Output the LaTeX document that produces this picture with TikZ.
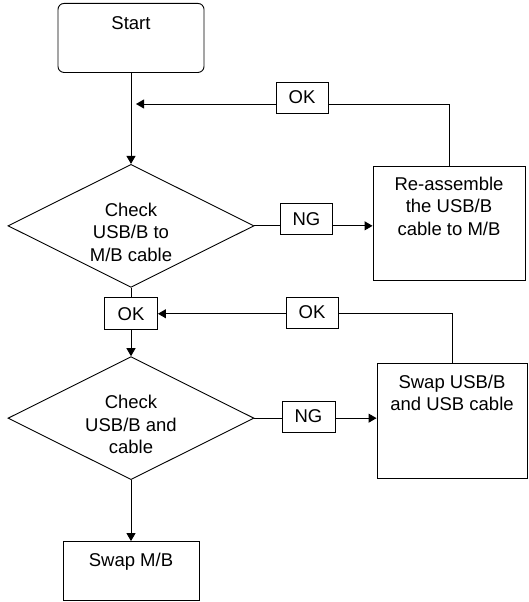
\documentclass[tikz,border=0pt]{standalone}
\usepackage{fontspec}
\setmainfont{Liberation Sans}
\usepackage{tikz}
\usetikzlibrary{positioning, arrows.meta, shapes.geometric}
\newcommand{\toplines}[1]{\begin{tabular}[t]{@{}c@{}}#1\end{tabular}}

\begin{document}
\begin{tikzpicture}[
        x=1pt, y=-1pt,
        line width=0.9pt,
        font=\fontsize{18.5}{22.5}\selectfont,
        term/.style  = {draw, rounded corners=6pt, minimum width=146pt, inner sep=0pt, text height=26pt, text depth=43pt},
        check/.style = {draw, diamond, shape aspect=2, minimum width=246pt, minimum height=123pt, inner sep=0pt, text height=15pt, text depth=34pt},
        action/.style= {draw, inner sep=0pt, text height=24pt, text depth=90pt},
        tag/.style   = {draw, minimum width=52pt, minimum height=31pt, inner sep=0pt},
        arrow/.style = {-{Triangle[length=8pt, width=9pt]}},
    ]
        \useasboundingbox (0,0) rectangle (528,602);
        % Main column
        \node[term, anchor=north] (start) at (131,3) {Start};
        \node[check, below=91pt of start] (chk1) {\toplines{Check\\USB/B to\\M/B cable}};
        \node[tag, below=9.5pt of chk1, minimum width=53pt, minimum height=32pt] (ok2) {OK};
        \node[check, below=26pt of ok2] (chk2) {\toplines{Check\\USB/B and\\cable}};
        \node[action, below=61pt of chk2, minimum width=136pt, text height=25pt, text depth=34pt] (swapmb) {Swap M/B};
        % Right column
        \node[tag] (ok1) at (302,97.5) {OK};
        \node[tag] (ng1) at (306.5,219) {NG};
        \node[action, anchor=north, minimum width=152pt] (fix1) at (449,166) {\toplines{Re-assemble\\the USB/B\\cable to M/B}};
        \node[tag] (ok3) at (312,312.5) {OK};
        \node[tag, minimum width=53pt] (ng2) at (308.5,416.5) {NG};
        \node[action, anchor=north, minimum width=150pt, text height=25pt] (fix2) at (452,363) {\toplines{Swap USB/B\\and USB cable}};
        \coordinate (join1) at (136,104);

        % Arrows
        \draw[arrow] (start) -- (chk1);
        \draw (chk1) -- (ok2);
        \draw[arrow] (ok2) -- (chk2);
        \draw[arrow] (chk2) -- (swapmb);
        \draw (chk1.east) -- (ng1.west |- chk1.east);
        \draw[arrow] (ng1.east |- chk1.east) -- (fix1.west |- chk1.east);
        \draw (fix1.north) |- (ok1.east |- join1);
        \draw[arrow] (ok1.west |- join1) -- (join1);
        \draw (chk2.east) -- (ng2.west |- chk2.east);
        \draw[arrow] (ng2.east |- chk2.east) -- (fix2.west |- chk2.east);
        \draw (fix2.north) |- (ok3.east |- ok2.east);
        \draw[arrow] (ok3.west |- ok2.east) -- (ok2.east);
    \end{tikzpicture}
\end{document}
